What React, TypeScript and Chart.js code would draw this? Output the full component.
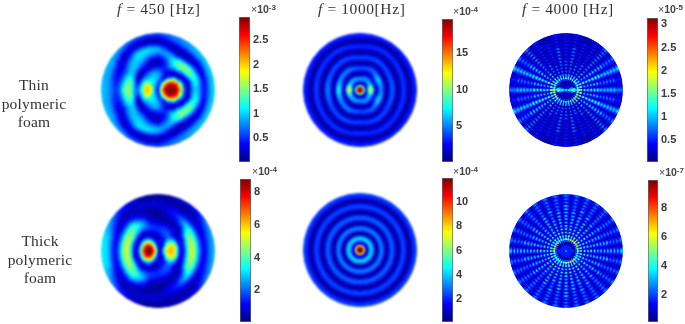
import React, { useEffect, useRef } from "react";
import { Chart, registerables } from "chart.js";

Chart.register(...registerables);

// ---- tables: rays from east (0 deg) to west (180 deg), each ray listed from the centre outward ----
const thin450 = [
  [1,1.8,2.4,2.8,2.95,3,3,2.95,2.75,2.2,1.5,.7,.2,.2,.65,.9,.95,.85,.6,.45,.45,.65,.85,1.0],
  [.6,1.7,2.3,2.75,2.9,2.95,2.9,2.8,2.5,1.8,1.2,.5,.2,.25,.7,1.05,1.15,1.05,.7,.4,.4,.6,.85,.95],
  [.5,1.4,2.0,2.4,2.6,2.65,2.5,2.15,1.7,.75,.25,.15,.4,1.0,1.4,1.5,1.3,.9,.5,.25,.3,.55,.8,.95],
  [.5,1.1,1.5,1.8,1.8,1.7,1.25,.7,.3,.12,.2,.7,1.15,1.45,1.55,1.35,.9,.45,.2,.15,.4,.65,.85,.9],
  [.45,.8,1.0,1.0,.7,.35,.2,.15,.2,.4,.65,.9,1.05,1.2,1.15,.95,.55,.25,.12,.15,.4,.6,.75,.8],
  [.4,.45,.5,.55,.55,.55,.6,.55,.5,.5,.45,.45,.5,.6,.75,.85,.8,.55,.3,.15,.2,.4,.6,.7],
  [.4,.4,.45,.6,.8,.9,.9,.85,.7,.5,.3,.15,.12,.2,.4,.65,.85,.9,.75,.45,.2,.12,.25,.5],
  [.4,.5,.7,.9,1.0,1.0,.95,.9,.7,.45,.25,.15,.2,.4,.6,.8,.95,1.05,.9,.55,.25,.12,.25,.5],
  [.4,.7,.9,1.05,1.1,1.05,.95,.8,.6,.35,.25,.35,.55,.75,.9,1.0,1.05,1.05,.85,.55,.3,.2,.35,.6],
  [.4,.7,.9,1.05,1.2,1.15,1,.8,.5,.2,.15,.4,.7,.9,.95,.95,.85,.65,.4,.2,.2,.35,.6,.8],
  [.4,.85,1.2,1.55,1.75,1.7,1.3,.95,.5,.12,.25,.65,.95,1.0,.9,.7,.5,.3,.25,.3,.5,.7,.85,.9],
  [.35,.85,1.35,1.85,2,1.95,1.5,1,.6,.5,.85,1.25,1.4,1.35,1.1,.85,.6,.45,.4,.5,.65,.8,.85,.9],
  [.3,.8,1.4,1.85,2.05,2,1.6,1.1,.8,.7,.95,1.3,1.55,1.6,1.4,1.05,.75,.6,.55,.65,.75,.85,.9,.95],
];

const thick450 = [
  [.4,1,2.8,4.8,6,6.2,6,5.2,3.3,1.2,.7,1.6,3.2,4.5,5,4.8,3.8,2.6,1.6,1.1,1.2,1.7,2.2,2.6],
  [.5,1,2.5,4.5,5.6,6,6,5,3.3,1.2,.8,1.6,3,4.3,4.8,4.6,3.7,2.6,1.5,1,1.1,1.6,2.1,2.5],
  [.5,.7,2,3.4,4.5,5,4.8,4,2.6,1,.6,1,2,3.2,4,4.1,3.5,2.5,1.4,.8,.7,1.1,1.6,2.1],
  [.6,.6,.9,1.4,2.7,2.9,2.9,2.3,1.5,.9,.6,.4,.4,.8,1.6,2.4,2.8,2.1,1.3,.7,.4,.4,.7,1],
  [.7,.5,.5,.7,1,1.2,1.6,1.9,1.9,1.6,1.2,.7,.4,.4,.7,1.1,1.4,1.5,1.1,.7,.4,.3,.4,.7],
  [.9,.8,.8,.9,1,1,1.2,1.5,1.7,1.7,1.4,1,.6,.4,.4,.5,.7,.9,.9,.7,.5,.3,.3,.5],
  [1.2,1.4,1.1,.8,.6,.4,.5,.9,1.3,1.5,1.4,1.1,.7,.4,.25,.15,.15,.3,.5,.7,.7,.5,.3,.2],
  [2,2.3,2,1.9,1.2,.6,.3,.5,.9,1.3,1.6,1.5,1.2,.9,.6,.4,.25,.3,.4,.6,.7,.6,.4,.3],
  [2.5,3.6,4,3.9,3.2,2.5,1.5,.8,.5,.9,1.6,2.1,2.5,2.6,2.3,1.8,1.2,.7,.5,.5,.6,.6,.6,.8],
  [3,4.4,5.5,6.2,6,5,3.6,1.9,.8,.4,1.1,2.2,3.1,3.8,3.9,3.4,2.6,1.6,.9,.5,.4,.6,1,1.4],
  [3,5.1,7,7.8,7.9,7.2,5.5,3.2,1.4,.5,1.4,3,4.1,4.5,4.3,3.6,2.5,1.5,.9,.7,1,1.5,2,2.4],
  [3.2,5.9,7.6,8.6,8.7,8.2,6.6,4,1.5,.6,1.2,2.9,4.4,5,4.7,3.7,2.5,1.5,1.1,1.3,2,2.6,3,3.1],
  [3.2,5.9,8,8.7,8.8,8.5,7,4.4,1.9,.6,1.2,3,4.4,5,4.8,3.8,2.6,1.6,1.2,1.5,2.2,2.8,3.1,3.2],
];

const thin1000 = [
  [19,18,9,2,7,12,13,7,1.5,1.5,4,5,4,1.5,.5,1.5,3.5,4.4,3.5,1.5,.3,1,2.8,3.6,3,1.2,.3,1.2,2.6,3],
  [19,18,9,1.5,3.5,6,6.5,3.5,2,4,6,7,5,2,.4,1.2,3.2,4,3.2,1.3,.3,1,2.6,3.4,3,1.2,.3,1.2,2.6,3],
  [19,18,9,1.2,2,4,5.5,5,2.2,.6,1.5,3.5,4.5,3.5,1.2,.3,1.8,3.5,4,2.8,1,.3,1.5,3,3.4,2.2,.6,.6,2,3],
  [19,18,9,1,3,5,5.5,3,.8,.6,2.5,4,3.5,1.5,.3,1,3,3.8,3,1,.2,1.2,2.8,3.4,2.5,.8,.3,1.5,2.6,3],
  [19,18,9,1.2,2.5,5,6,4,1,.7,2.5,4.5,5,3.5,1,.4,2,3.6,4,2.6,.8,.4,1.8,3.2,3.4,2,.5,.8,2.2,3],
  [19,18,9,1.5,3.5,6,7,4,1.2,1.5,3.5,5,5,2.5,.5,1,3,4,3.5,1.5,.3,1,2.6,3.5,3,1.2,.3,1.2,2.6,3],
  [19,18,9,2,7,12.5,13,7,1.5,2,6,8,6.5,2,.5,2,4.5,5,4,1.5,.3,1.2,3,3.8,3,1.2,.3,1.2,2.6,3],
];

// one value per ring only: this panel is axisymmetric
const thick1000 = [
  [12,12,8,1.5,1.5,3.6,4.2,2.8,.6,.4,2,3.1,2.6,1,.15,1,2.3,2.7,2,.8,.15,.9,2,2.4,1.8,.7,.2,.9,1.8,2.2],
];

// 4000 Hz panels: levels 0-9 by ring (centre outward), 17 spokes per half turn, optional levels in the 16 gaps
type LevelRow = [string, string?];
const D3: LevelRow = ["21210000" + "0" + "00001212"];
const thin4000: LevelRow[] = [
  ["33333333" + "3" + "33333333", "3333333333333333"],
  ["43211111" + "1" + "11111234", "3211111111111123"],
  ["43211000" + "0" + "00011234", "3210000000000123"],
  ["43210000" + "0" + "00001234", "3210000000000123"],
  ["53200000" + "0" + "00000235", "4100000000000014"],
  ["43000000" + "0" + "00000034", "3000000000000003"],
  ["42222222" + "2" + "22222224", "1000000000000001"],
  ["86665555" + "5" + "55556668", "3222111111112223"],
  ["53333333" + "3" + "33333335", "1000000000000001"],
  ["66544333" + "3" + "33344567"],
  D3,
  ["53533222" + "2" + "22233535"],
  D3,
  ["43433222" + "2" + "22233434"],
  D3,
  ["43432222" + "2" + "22223434"],
  D3,
  ["43432212" + "2" + "21223434"],
  D3,
  ["43432112" + "1" + "21123434"],
  D3,
  ["32432112" + "1" + "21123423"],
  D3,
  ["32332112" + "1" + "21123323"],
  D3,
  ["32332112" + "1" + "21123323"],
  D3,
  ["32322111" + "1" + "11122323"],
  D3,
  ["32322111" + "1" + "11122323"],
  D3,
  ["21322101" + "1" + "10122312"],
  D3,
  ["21322101" + "1" + "10122312"],
];
const D6: LevelRow = ["11111111" + "1" + "11111111"];
const thick4000: LevelRow[] = [
  ["22222222" + "2" + "22222222", "2222222222222222"],
  ["11111111" + "1" + "11111111", "1111111111111111"],
  ["21111111" + "1" + "11111112", "1111111111111111"],
  ["11111111" + "1" + "11111111", "1111111111111111"],
  ["21000000" + "0" + "00000012", "1000000000000001"],
  ["00000000" + "0" + "00000000"],
  ["33333333" + "3" + "33333333", "0000000000000000"],
  ["87676767" + "7" + "76767678", "2222222222222222"],
  ["33333333" + "3" + "33333333", "0000000000000000"],
  ["55454545" + "5" + "45454555"],
  D6,
  ["54444444" + "4" + "44444445"],
  D6,
  ["44343434" + "4" + "43434344"],
  D6,
  ["43333333" + "4" + "33333334"],
  D6,
  ["43333333" + "3" + "33333334"],
  D6,
  ["33332333" + "3" + "33323333"],
  D6,
  ["33323233" + "3" + "32323333"],
  D6,
  ["33232323" + "3" + "32323233"],
  D6,
  ["33222232" + "3" + "23222233"],
  D6,
  ["32222222" + "3" + "22222223"],
  D6,
  ["32222222" + "2" + "22222223"],
  D6,
  ["32222222" + "2" + "22222223"],
  D6,
  ["32222222" + "2" + "22222223"],
];

// ---- labels and axis values ----
const titles = [
  { pre: " = 450 [Hz]", x: 117 },
  { pre: " = 1000[Hz]", x: 318 },
  { pre: " = 4000 [Hz]", x: 522 },
];
const rowLabels = [
  { lines: ["Thin", "polymeric", "foam"], cx: 34, y: 76 },
  { lines: ["Thick", "polymeric", "foam"], cx: 40, y: 232 },
];
const ticks450a = [0.5, 1, 1.5, 2, 2.5];
const ticks1000a = [5, 10, 15];
const ticks4000a = [0.5, 1, 1.5, 2, 2.5, 3];
const ticks450b = [2, 4, 6, 8];
const ticks1000b = [2, 4, 6, 8, 10];
const ticks4000b = [2, 4, 6, 8];

function levelsToRings(rows: LevelRow[], max: number) {
  const toVal = (c: string) => ((+c + 0.5) / 10) * max;
  return rows.map(([s, g]) => {
    const out: number[] = [];
    for (let i = 0; i < s.length; i++) {
      out.push(toVal(s[i]));
      if (i < s.length - 1) out.push(toVal(g ? g[i] : "0"));
    }
    return out;
  });
}
function raysToRings(rays: number[][]) {
  return rays[0].map((_, i) => rays.map((r) => r[i]));
}

function jet(t: number) {
  const c = (x: number) => Math.round(255 * Math.max(0, Math.min(1, x)));
  const r = c(Math.min(4 * t - 1.5, -4 * t + 4.5));
  const g = c(Math.min(4 * t - 0.5, -4 * t + 3.5));
  const b = c(Math.min(4 * t + 0.5, -4 * t + 2.5));
  return `rgb(${r},${g},${b})`;
}

type Panel = {
  rings: number[][];
  cx: number;
  cy: number;
  min: number;
  max: number;
  ticks: number[];
  bar: [number, number, number, number]; // left, top, width, height
  exp: string;
  expX: number;
  expY: number;
  blur: number;
};

const panels: Panel[] = [
  { rings: raysToRings(thin450), cx: 158, cy: 90, min: 0.01, max: 2.98, ticks: ticks450a, bar: [239, 17, 11, 145], exp: "-3", expX: 251, expY: 3, blur: 0.9 },
  { rings: raysToRings(thin1000), cx: 360, cy: 90, min: 0.05, max: 19.7, ticks: ticks1000a, bar: [442, 19, 11, 143], exp: "-4", expX: 453, expY: 5, blur: 0.8 },
  { rings: levelsToRings(thin4000, 3.14), cx: 566, cy: 90, min: 0.02, max: 3.14, ticks: ticks4000a, bar: [647, 18, 11, 144], exp: "-5", expX: 658, expY: 3, blur: 0.35 },
  { rings: raysToRings(thick450), cx: 158, cy: 250.5, min: 0.06, max: 8.8, ticks: ticks450b, bar: [240, 179, 11, 143], exp: "-4", expX: 252, expY: 165, blur: 0.9 },
  { rings: raysToRings(thick1000), cx: 360, cy: 250, min: 0.08, max: 12, ticks: ticks1000b, bar: [442, 178, 11, 144], exp: "-4", expX: 453, expY: 165, blur: 0.8 },
  { rings: levelsToRings(thick4000, 9.9), cx: 566, cy: 250.5, min: 0.12, max: 9.9, ticks: ticks4000b, bar: [648, 180, 10, 142], exp: "-7", expX: 659, expY: 166, blur: 0.35 },
];

const DISK = 120;
const SUB = 4;

function ringFill(ctx: CanvasRenderingContext2D, vals: number[], max: number) {
  if (vals.length === 1) return jet(vals[0] / max);
  const g = ctx.createConicGradient(0, DISK / 2, DISK / 2);
  const n = vals.length - 1;
  for (let k = 0; k < n; k++) {
    for (let s = 0; s <= SUB; s++) {
      const a = ((k + s / SUB) / n) * 180;
      const v = vals[k] + ((vals[k + 1] - vals[k]) * s) / SUB;
      const col = jet(v / max);
      g.addColorStop(a / 360, col);
      g.addColorStop(1 - a / 360, col);
    }
  }
  return g;
}

function Disk({ p }: { p: Panel }) {
  const ref = useRef<HTMLCanvasElement>(null);
  useEffect(() => {
    const canvas = ref.current!;
    const ctx = canvas.getContext("2d")!;
    const datasets = [...p.rings].reverse().map((vals) => {
      const fill = ringFill(ctx, vals, p.max);
      return { data: [1], backgroundColor: fill, borderColor: fill, borderWidth: 1 };
    });
    const chart = new Chart(canvas, {
      type: "doughnut",
      data: { labels: ["field"], datasets: datasets as any },
      options: {
        animation: false,
        responsive: false,
        cutout: 0,
        layout: { padding: 3 },
        plugins: { legend: { display: false }, tooltip: { enabled: false } },
      },
    });
    return () => chart.destroy();
  }, [p]);
  return (
    <canvas
      ref={ref}
      width={DISK}
      height={DISK}
      style={{
        position: "absolute",
        left: p.cx - DISK / 2,
        top: p.cy - DISK / 2,
        width: DISK,
        height: DISK,
        filter: `blur(${p.blur}px)`,
      }}
    />
  );
}

function ColorBar({ p }: { p: Panel }) {
  const ref = useRef<HTMLCanvasElement>(null);
  const [left, top, w, h] = p.bar;
  const axisW = 26;
  const pad = 6;
  useEffect(() => {
    const canvas = ref.current!;
    const chart = new Chart(canvas, {
      type: "bar",
      data: {
        labels: [""],
        datasets: [
          {
            data: [[p.min, p.max]] as any,
            categoryPercentage: 1,
            barPercentage: 1,
            borderWidth: 1,
            borderColor: "#666",
            borderSkipped: false,
            backgroundColor: (c: any) => {
              const g = c.chart.ctx.createLinearGradient(0, pad + h, 0, pad);
              for (let i = 0; i <= 32; i++) g.addColorStop(i / 32, jet(i / 32));
              return g;
            },
          },
        ],
      },
      options: {
        animation: false,
        responsive: false,
        layout: { padding: { top: pad, bottom: pad, left: 0, right: 0 } },
        plugins: { legend: { display: false }, tooltip: { enabled: false } },
        scales: {
          x: { display: false },
          y: {
            position: "right",
            min: p.min,
            max: p.max,
            afterFit: (s: any) => {
              s.width = axisW;
              s.paddingTop = 0;
              s.paddingBottom = 0;
            },
            afterBuildTicks: (s: any) => {
              s.ticks = p.ticks.map((value) => ({ value }));
            },
            grid: { display: false, drawTicks: false },
            border: { display: false },
            ticks: {
              padding: 3,
              color: "#3a3a3a",
              callback: (v: any) => String(v),
              font: { family: "Liberation Sans", size: 11, weight: "bold" },
            },
          },
        },
      },
    });
    return () => chart.destroy();
  }, [p]);
  return (
    <canvas
      ref={ref}
      width={w + axisW}
      height={h + pad * 2}
      style={{ position: "absolute", left, top: top - pad, width: w + axisW, height: h + pad * 2, filter: "blur(0.35px)" }}
    />
  );
}

const serif = "'Liberation Serif', serif";
const sans = "'Liberation Sans', sans-serif";

export default function App() {
  return (
    <div style={{ position: "fixed", left: 0, top: 0, width: 685, height: 324, overflow: "hidden", background: "#fff" }}>
      {titles.map((t) => (
        <div
          key={t.x}
          style={{ position: "absolute", left: t.x, top: 0, font: `15.5px ${serif}`, color: "#333", whiteSpace: "pre", letterSpacing: "0.6px", filter: "blur(0.25px)" }}
        >
          <i>f</i>
          {t.pre}
        </div>
      ))}
      {rowLabels.map((r) =>
        r.lines.map((l, i) => (
          <div
            key={r.y + l}
            style={{ position: "absolute", left: r.cx - 50, width: 100, textAlign: "center", top: r.y + i * 18.5, font: `15.5px ${serif}`, color: "#333", letterSpacing: "0.2px", filter: "blur(0.25px)" }}
          >
            {l}
          </div>
        )),
      )}
      {panels.map((p) => (
        <React.Fragment key={p.cx + "-" + p.cy}>
          <Disk p={p} />
          <ColorBar p={p} />
          <div style={{ position: "absolute", left: p.expX, top: p.expY, font: `10.5px ${sans}`, color: "#444", whiteSpace: "pre", lineHeight: "12px", filter: "blur(0.25px)" }}>
            ×<b>10</b>
            <b style={{ fontSize: 8, position: "relative", top: -3 }}>{p.exp}</b>
          </div>
        </React.Fragment>
      ))}
    </div>
  );
}
